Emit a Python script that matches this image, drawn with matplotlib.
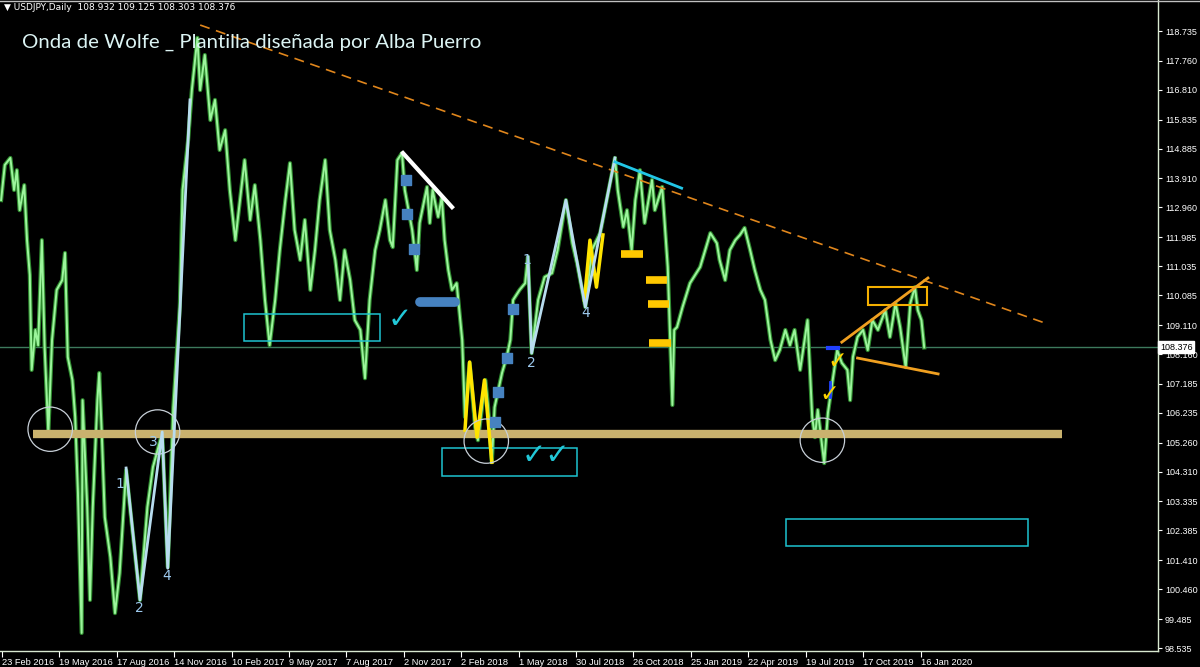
import matplotlib
matplotlib.use("Agg")
import matplotlib.pyplot as plt
from matplotlib.patches import Rectangle, Ellipse


#Price path (bar index, close)
bars = [-1, 3, 9, 13, 16, 19, 24, 27, 30, 32, 36, 39, 43, 46, 50, 54, 59, 65, 68, 71,
        76, 79, 82, 86, 87, 92, 95, 98, 103, 105, 108, 111, 117, 122, 127, 134, 140, 149, 157, 163,
        173, 179, 185, 192, 195, 201, 205, 211, 214, 219, 225, 230, 235, 241, 246, 252, 257, 262, 268, 273,
        279, 284, 289, 295, 300, 306, 311, 316, 322, 327, 333, 338, 343, 349, 354, 360, 365, 370, 376, 381,
        387, 392, 397, 403, 408, 414, 419, 422, 427, 432, 435, 443, 448, 451, 459, 462, 465, 471, 475, 478,
        482, 486, 491, 497, 500, 505, 511, 514, 522, 525, 529, 532, 536, 540, 545, 549, 552, 559, 565, 568,
        572, 579, 586, 594, 600, 609, 616, 621, 630, 637, 646, 653, 662, 665, 671, 675, 680, 684, 689, 694,
        702, 705, 713, 716, 719, 724, 726, 729, 735, 743, 754, 765, 772, 775, 781, 786, 792, 797, 802, 808,
        813, 819, 824, 830, 835, 840, 846, 851, 856, 862, 870, 875, 878, 881, 888, 892, 896, 902, 907, 913,
        916, 919, 924, 930, 935, 940, 946, 954, 959, 965, 970, 976, 981, 986, 989, 993, 996]
closes = [113.20, 114.35, 114.58, 113.53, 114.18, 112.87, 113.69, 111.89, 110.75, 107.64,
          108.95, 108.45, 111.89, 108.39, 105.57, 108.62, 110.26, 110.58, 111.47, 108.06,
          107.31, 106.10, 103.61, 99.03, 106.65, 103.15, 100.11, 103.15, 106.65, 107.54,
          105.34, 102.82, 101.51, 99.68, 100.99, 104.36, 102.63, 100.11, 103.15, 104.46,
          105.57, 101.19, 106.42, 109.70, 113.53, 115.17, 116.80, 118.51, 116.80, 117.95,
          115.82, 116.48, 114.84, 115.49, 113.53, 111.89, 113.20, 114.51, 112.55, 113.69,
          111.89, 109.93, 108.45, 109.93, 111.56, 113.20, 114.41, 112.22, 111.24, 112.55,
          110.26, 111.56, 113.20, 114.51, 112.22, 111.24, 109.93, 111.56, 110.58, 109.27,
          108.95, 107.37, 109.93, 111.56, 112.22, 113.20, 111.89, 111.66, 114.51, 114.74,
          113.53, 112.22, 110.91, 112.45, 113.63, 112.45, 113.53, 112.65, 113.30, 111.89,
          110.91, 110.26, 110.48, 108.62, 106.10, 107.87, 105.77, 105.34, 107.31, 106.42,
          104.62, 106.42, 106.98, 107.54, 108.06, 108.62, 109.93, 110.26, 110.48, 111.34,
          108.19, 109.93, 110.68, 110.81, 111.56, 113.20, 111.79, 111.14, 109.70, 111.56,
          112.12, 113.20, 114.58, 113.53, 112.32, 112.87, 111.56, 113.20, 114.18, 112.45,
          113.86, 112.87, 113.63, 112.32, 111.01, 106.49, 108.95, 109.04, 109.70, 110.48,
          111.01, 112.12, 111.79, 111.24, 110.58, 111.56, 111.89, 112.06, 112.29, 111.56,
          110.91, 110.26, 109.93, 108.62, 107.96, 108.29, 108.95, 108.45, 108.95, 107.64,
          109.27, 106.10, 105.44, 106.33, 104.59, 106.23, 107.08, 108.29, 107.87, 107.64,
          106.65, 108.06, 108.72, 108.95, 108.29, 109.27, 108.95, 109.60, 108.72, 109.83,
          109.04, 107.73, 109.83, 110.35, 109.60, 109.27, 108.376]

last_price = 108.376
header = "USDJPY,Daily  108.932 109.125 108.303 108.376"
title = "Onda de Wolfe _ Plantilla diseñada por Alba Puerro"

y_ticks = [118.735, 117.760, 116.810, 115.835, 114.885, 113.910, 112.960, 111.985, 111.035,
           110.085, 109.110, 108.160, 107.185, 106.235, 105.260, 104.310, 103.335, 102.385,
           101.410, 100.460, 99.485, 98.535]
x_tick_bars = [0, 62, 124, 186, 248, 310, 372, 434, 496, 558, 620, 682, 744, 806, 868, 930, 992]
x_tick_labels = ["23 Feb 2016", "19 May 2016", "17 Aug 2016", "14 Nov 2016", "10 Feb 2017",
                 "9 May 2017", "7 Aug 2017", "2 Nov 2017", "2 Feb 2018", "1 May 2018",
                 "30 Jul 2018", "26 Oct 2018", "25 Jan 2019", "22 Apr 2019", "19 Jul 2019",
                 "17 Oct 2019", "16 Jan 2020"]

#Drawings on the chart
support_level = 105.54
support_span = [33, 1145]
wolfe_line = [(214, 118.93), (1126, 109.18)]

wolfe_left_x = [134, 149, 173, 179, 203]
wolfe_left_y = [104.43, 100.11, 105.61, 101.15, 116.48]
wolfe_left_labels = [("1", 127, 103.90), ("2", 148, 99.84), ("3", 163, 105.28), ("4", 178, 100.89)]

wolfe_mid_x = [568, 572, 609, 630, 662]
wolfe_mid_y = [111.34, 108.19, 113.20, 109.70, 114.58]
wolfe_mid_labels = [("1", 567, 111.25), ("2", 572, 107.87), ("4", 630, 109.50)]

yellow_a_x = [500, 505, 513, 521, 529]
yellow_a_y = [105.67, 107.90, 105.44, 107.31, 104.62]
yellow_b_x = [629, 635, 642, 649]
yellow_b_y = [109.93, 111.89, 110.35, 112.06]

yellow_dashes = [(669, 692, 111.43), (696, 718, 110.58), (698, 720, 109.80), (699, 723, 108.52)]

circles = [(52, 105.70), (168, 105.61), (523, 105.31), (886, 105.34)]

cyan_boxes = [(261, 408, 108.59, 109.47), (475, 621, 104.17, 105.08), (847, 1108, 101.87, 102.76)]
orange_box = (935, 999, 109.76, 110.35)

white_trend = [(433, 114.74), (486, 112.97)]
cyan_trend = [(662, 114.45), (734, 113.59)]
channel_up = [(907, 108.55), (1000, 110.65)]
channel_down = [(924, 108.03), (1011, 107.51)]

blue_marks_x = [436, 437, 445, 552, 545, 536, 532]
blue_marks_y = [113.86, 112.74, 111.60, 109.63, 108.03, 106.92, 105.93]
blue_bar = (451, 489, 109.86)

cyan_checks = [("\u2713", 430, 109.27), ("\u2713\u2713", 588, 104.82)]
yellow_checks = [(902, 107.93), (894, 106.85)]


#Figure
fig = plt.figure(figsize=(12, 6.67), dpi=100, facecolor="black")
ax = fig.add_axes([0, 16 / 667, 1158 / 1200, 651 / 667])
ax.set_facecolor("black")
ax.set_xlim(-2.2, 1248.5)
ax.set_ylim(98.44, 119.75)

#price
ax.plot(bars, closes, color="#2f8a2f", lw=3.0, zorder=2)
ax.plot(bars, closes, color="#9cf59c", lw=1.4, zorder=3)

ax.axhline(last_price, color="#3d7a5c", lw=1, zorder=1)

ax.plot(support_span, [support_level, support_level], color="#c9b26e", lw=6,
        solid_capstyle="butt", zorder=4)
ax.plot([p[0] for p in wolfe_line], [p[1] for p in wolfe_line], color="#e0861c",
        lw=1.2, dashes=(6, 4), zorder=4)

for x0, x1, y0, y1 in cyan_boxes:
    ax.add_patch(Rectangle((x0, y0), x1 - x0, y1 - y0, fill=False, ec="#1ec3d0", lw=1.1, zorder=5))
x0, x1, y0, y1 = orange_box
ax.add_patch(Rectangle((x0, y0), x1 - x0, y1 - y0, fill=False, ec="#f5b000", lw=1.5, zorder=5))

for cx, cy in circles:
    ax.add_patch(Ellipse((cx, cy), 48, 1.45, fill=False, ec="#c8d0d8", lw=0.9, zorder=6))

ax.plot(wolfe_left_x, wolfe_left_y, color="#b8dcef", lw=2, zorder=6)
ax.plot(wolfe_mid_x, wolfe_mid_y, color="#b8dcef", lw=2, zorder=6)
for txt, lx, ly in wolfe_left_labels + wolfe_mid_labels:
    ax.text(lx, ly, txt, color="#9cc8ec", fontsize=10, ha="center", va="center", zorder=7)

ax.plot(yellow_a_x, yellow_a_y, color="#ffe400", lw=2.5, zorder=5)
ax.plot(yellow_b_x, yellow_b_y, color="#ffe400", lw=2.5, zorder=5)
for x0, x1, yy in yellow_dashes:
    ax.plot([x0, x1], [yy, yy], color="#ffc800", lw=5.5, solid_capstyle="butt", zorder=5)

ax.plot([p[0] for p in white_trend], [p[1] for p in white_trend], color="white", lw=3, zorder=6)
ax.plot([p[0] for p in cyan_trend], [p[1] for p in cyan_trend], color="#22c6e6", lw=2, zorder=6)
ax.plot([p[0] for p in channel_up], [p[1] for p in channel_up], color="#f0a020", lw=2, zorder=6)
ax.plot([p[0] for p in channel_down], [p[1] for p in channel_down], color="#f0a020", lw=2, zorder=6)

ax.scatter(blue_marks_x, blue_marks_y, marker="s", s=55, color="#4682c0", zorder=7)
ax.plot([blue_bar[0], blue_bar[1]], [blue_bar[2], blue_bar[2]], color="#4682c0", lw=7,
        solid_capstyle="round", zorder=7)
ax.plot([892, 903], [108.36, 108.36], color="#2040ff", lw=3, zorder=7)
ax.plot([894, 894], [106.77, 107.26], color="#2040ff", lw=2, zorder=7)

for txt, lx, ly in cyan_checks:
    ax.text(lx, ly, txt, color="#22c8d8", fontsize=21, fontweight="bold",
            ha="center", va="center", family="DejaVu Sans", zorder=7)
for lx, ly in yellow_checks:
    ax.text(lx, ly, "\u2713", color="#ffd200", fontsize=17, fontweight="bold",
            ha="center", va="center", family="DejaVu Sans", zorder=8)

#axes
for side in ["left", "top"]:
    ax.spines[side].set_visible(False)
for side in ["right", "bottom"]:
    ax.spines[side].set_color("#d8e8d0")
    ax.spines[side].set_linewidth(1)

ax.yaxis.tick_right()
ax.set_yticks(y_ticks)
ax.set_yticklabels(["%.3f" % v for v in y_ticks], family="Liberation Sans")
ax.set_xticks(x_tick_bars)
ax.set_xticklabels(x_tick_labels, ha="left", family="Liberation Sans")
ax.tick_params(axis="y", colors="white", labelsize=6.5, length=3, pad=2, direction="out")
ax.tick_params(axis="x", colors="white", labelsize=6.7, length=4, pad=1, direction="out")

fig.add_artist(plt.Line2D([0, 1], [0.999, 0.999], color="#c0c0c0", lw=1))

fig.text(1160 / 1200, 1 - 347 / 667, "%.3f" % last_price, fontsize=6.5, color="black",
         va="center", ha="left", family="Liberation Sans",
         bbox=dict(boxstyle="square,pad=0.2", fc="white", ec="white"))

fig.text(4 / 1200, 1 - 8 / 667, "\u25bc " + header, fontsize=6.5, color="white",
         va="center", ha="left", family="DejaVu Sans")
fig.text(22 / 1200, 1 - 42 / 667, title, fontsize=14.7, color="#dcf4f4",
         va="center", ha="left", family="Lato")

fig.savefig("out.png", dpi=100, facecolor="black")
